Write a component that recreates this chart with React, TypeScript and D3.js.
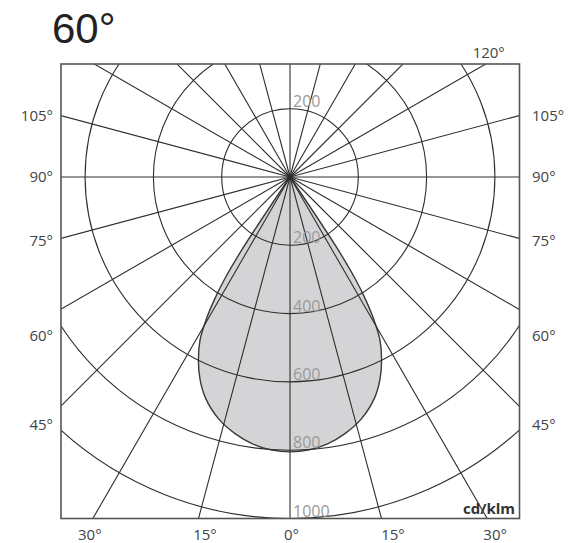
import React from 'react';
import * as d3 from 'd3';

// ---- data ----
const TITLE = '60°';
const UNIT = 'cd/klm';
const RING_VALUES = [200, 400, 600, 800, 1000];
const SPOKE_ANGLES = [0, 15, 30, 45, 60, 75, 90, 105, 120, 135, 150, 165, 180, 195, 210, 225, 240, 255, 270, 285, 300, 315, 330, 345];
const SIDE_LABEL_ANGLES = [105, 90, 75, 60, 45];
const BOTTOM_LABEL_ANGLES = [-30, -15, 0, 15, 30];
const TOP_LABEL_ANGLES = [120];
// half profile (symmetric), angle measured from nadir
const PROFILE_ANGLES = [0, 4, 8, 12, 16.5, 21, 24, 26.6, 28.9, 30.4, 31.6, 32.6, 33.5, 34.3];
const PROFILE_VALUES = [805, 801, 789, 769, 738, 692, 648, 599, 545, 487, 425, 358, 250, 0];

// ---- layout ----
const W = 568;
const H = 543;
const BOX = { x0: 61, x1: 519.5, y0: 64, y1: 518.5 };
const CX = 290;
const CY = 177;
const SIDE_NUDGE: Record<number, number> = { 105: 0, 90: 0, 75: 2, 60: 26, 45: 19 };
const BOTTOM_NUDGE: Record<string, number> = { '-30': -3, '-15': 6.5, '0': 1.5, '15': 11.5, '30': 8 };

const rScale = d3.scaleLinear().domain([0, 1000]).range([0, 341.5]);
const rad = (deg: number) => (deg * Math.PI) / 180;

export default function App() {
  const pts: [number, number][] = [];
  for (let i = PROFILE_ANGLES.length - 1; i >= 0; i--) pts.push([-PROFILE_ANGLES[i], PROFILE_VALUES[i]]);
  for (let i = 1; i < PROFILE_ANGLES.length; i++) pts.push([PROFILE_ANGLES[i], PROFILE_VALUES[i]]);
  const radial = d3
    .lineRadial<[number, number]>()
    .angle((d) => Math.PI - rad(d[0]))
    .radius((d) => rScale(d[1]))
    .curve(d3.curveCatmullRom.alpha(0.5));
  const profilePath = (radial(pts) || '') + 'Z';

  const hw = CX - BOX.x0;
  const hb = BOX.y1 - CY;
  const ht = CY - BOX.y0;

  const gridColor = '#2e2e2e';
  const labelFont = "'Open Sans', 'DejaVu Sans', sans-serif";

  return (
    <svg width={W} height={H} style={{ position: 'absolute', left: 0, top: 0 }} xmlns="http://www.w3.org/2000/svg">
      <defs>
        <clipPath id="boxclip">
          <rect x={BOX.x0} y={BOX.y0} width={BOX.x1 - BOX.x0} height={BOX.y1 - BOX.y0} />
        </clipPath>
      </defs>
      <rect x={0} y={0} width={W} height={H} fill="#fff" />
      <text x={52} y={43} fontFamily="'Liberation Sans', Arial, sans-serif" fontSize={42} fill="#222">
        {TITLE}
      </text>

      <g clipPath="url(#boxclip)">
        <path d={profilePath} transform={`translate(${CX},${CY})`} fill="#d4d4d6" stroke="#3a3a3a" strokeWidth={1.4} />
        {SPOKE_ANGLES.map((a) => (
          <line
            key={'s' + a}
            x1={CX}
            y1={CY}
            x2={CX + 900 * Math.sin(rad(a))}
            y2={CY + 900 * Math.cos(rad(a))}
            stroke={gridColor}
            strokeWidth={1.1}
          />
        ))}
        {RING_VALUES.map((v) => (
          <circle key={'c' + v} cx={CX} cy={CY} r={rScale(v)} fill="none" stroke={gridColor} strokeWidth={1.1} />
        ))}
      </g>
      <rect x={BOX.x0} y={BOX.y0} width={BOX.x1 - BOX.x0} height={BOX.y1 - BOX.y0} fill="none" stroke="#555" strokeWidth={1.6} />

      {/* ring labels */}
      <text x={CX + 3} y={CY - rScale(RING_VALUES[0]) - 2} fontFamily={labelFont} fontSize={16} fill="#9a9a9a">
        {RING_VALUES[0]}
      </text>
      {RING_VALUES.map((v) => (
        <text key={'rl' + v} x={CX + 3} y={CY + rScale(v) - 2} fontFamily={labelFont} fontSize={16} fill="#9a9a9a">
          {v}
        </text>
      ))}

      {/* side labels */}
      {SIDE_LABEL_ANGLES.map((a) => {
        const y = CY + hw / Math.tan(rad(a)) + (SIDE_NUDGE[a] || 0);
        return (
          <g key={'side' + a}>
            <text x={53} y={y} dy="0.36em" textAnchor="end" fontFamily={labelFont} fontSize={15} fill="#444">
              {a}°
            </text>
            <text x={532} y={y} dy="0.36em" textAnchor="start" fontFamily={labelFont} fontSize={15} fill="#444">
              {a}°
            </text>
          </g>
        );
      })}

      {/* bottom labels */}
      {BOTTOM_LABEL_ANGLES.map((a) => {
        const x = CX + hb * Math.tan(rad(a)) + (BOTTOM_NUDGE[String(a)] || 0);
        return (
          <text key={'bot' + a} x={x} y={540} textAnchor="middle" fontFamily={labelFont} fontSize={15} fill="#444">
            {Math.abs(a)}°
          </text>
        );
      })}

      {/* top labels */}
      {TOP_LABEL_ANGLES.map((a) => {
        const x = CX + (ht * Math.sin(rad(a))) / -Math.cos(rad(a)) + 3;
        return (
          <text key={'top' + a} x={x} y={58} textAnchor="middle" fontFamily={labelFont} fontSize={15} fill="#444">
            {a}°
          </text>
        );
      })}

      <text x={515} y={513.5} textAnchor="end" fontFamily={labelFont} fontWeight="bold" fontSize={15} fill="#333">
        {UNIT}
      </text>
    </svg>
  );
}
